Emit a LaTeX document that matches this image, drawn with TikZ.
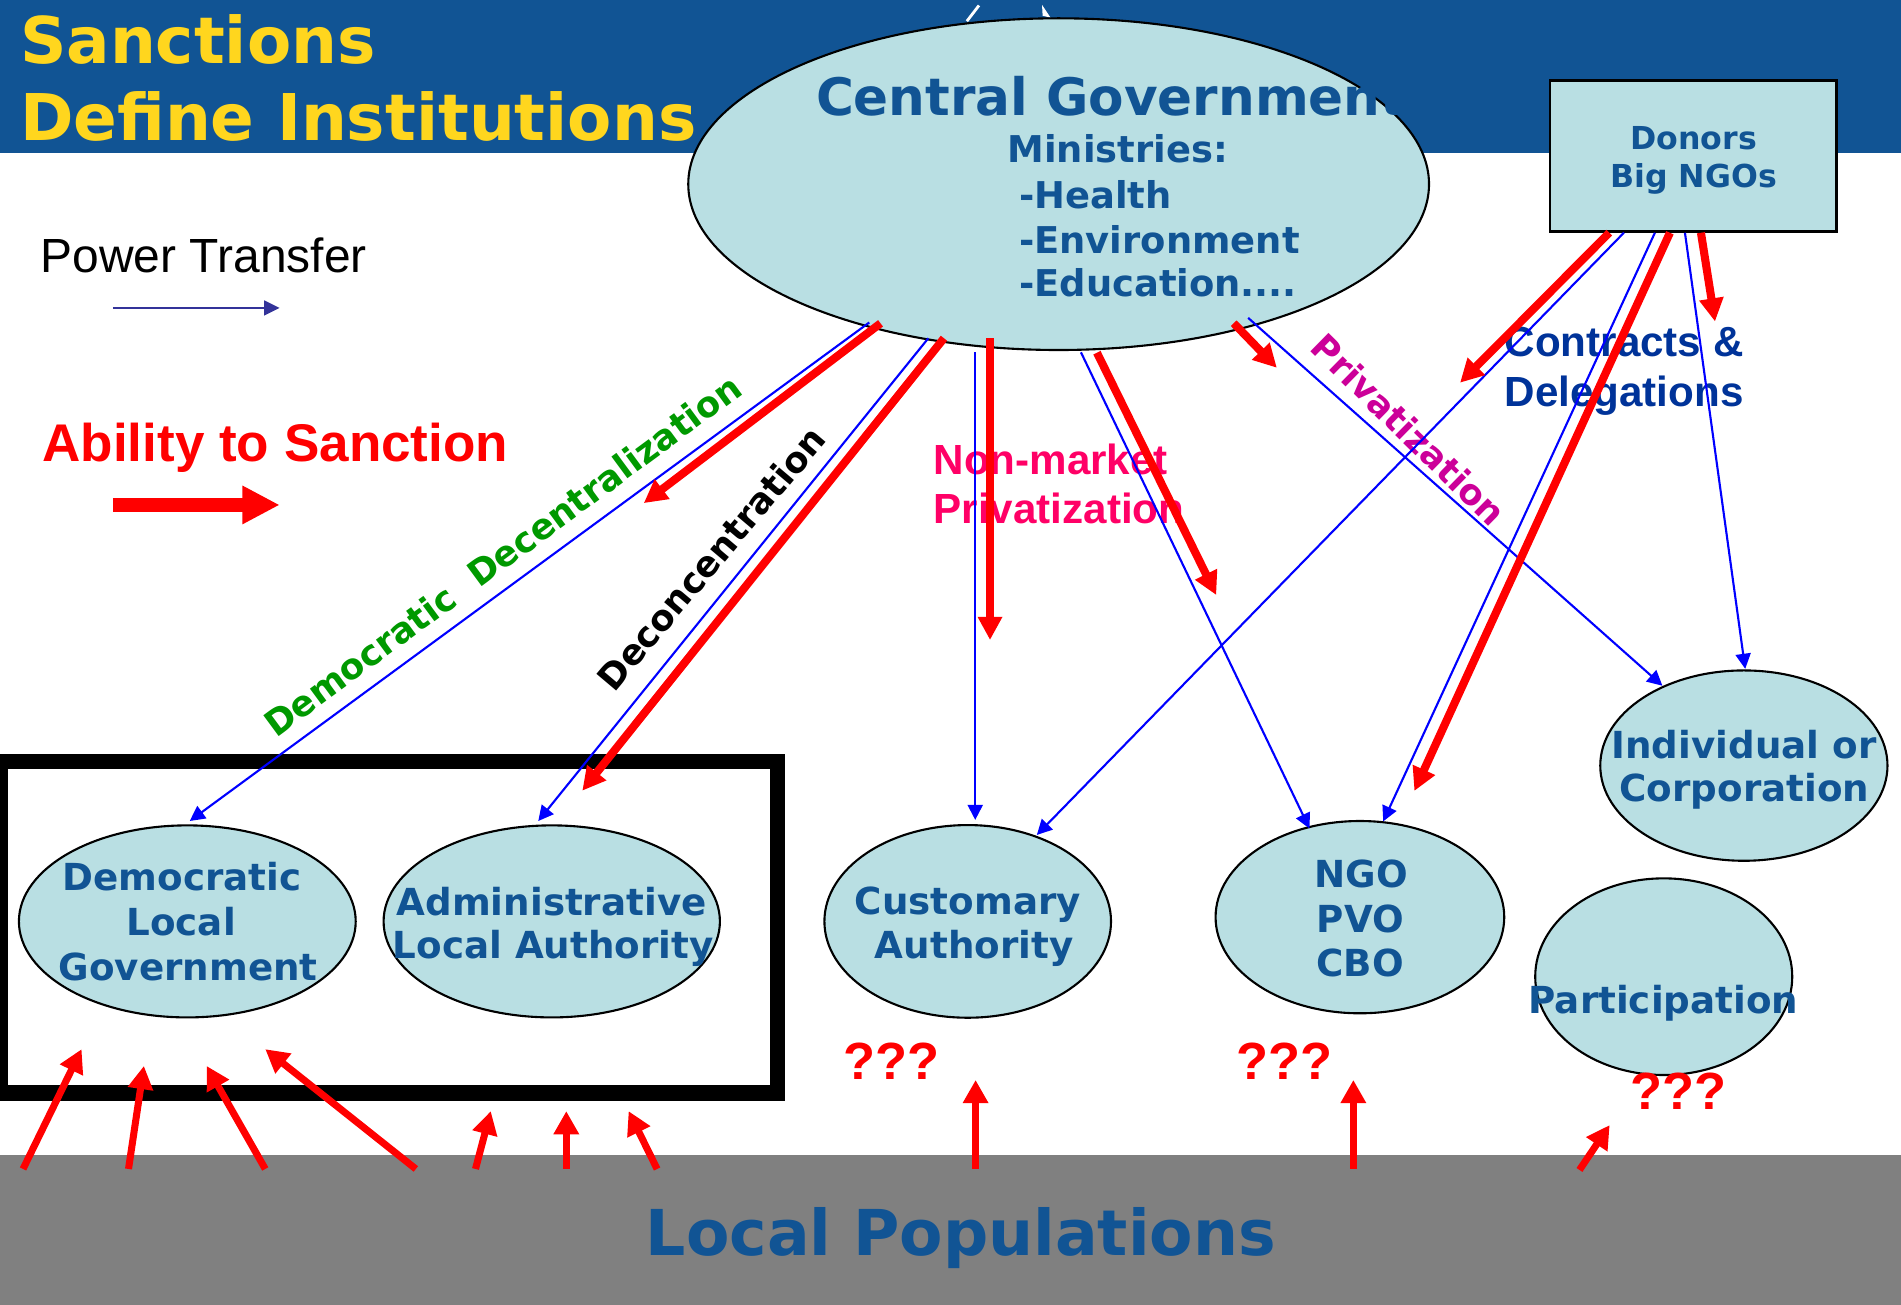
\documentclass[tikz,border=0pt]{standalone}
\usepackage{fontspec}
\usetikzlibrary{arrows.meta,shapes.geometric}
\newfontfamily\dvs{DejaVu Sans}
\newfontfamily\lsans{Liberation Sans}
\newlength\pxu
\setlength\pxu{0.012124cm}
\definecolor{bannerblue}{RGB}{17,84,148}
\definecolor{ellfill}{RGB}{185,223,227}
\definecolor{titleyellow}{RGB}{255,214,30}
\definecolor{pblue}{RGB}{0,0,255}
\definecolor{sred}{RGB}{255,0,0}
\definecolor{legblue}{RGB}{51,51,153}
\definecolor{dgreen}{RGB}{0,153,0}
\definecolor{magentaP}{RGB}{204,0,153}
\definecolor{pinkN}{RGB}{255,0,102}
\definecolor{navyC}{RGB}{0,51,153}
\definecolor{popgray}{RGB}{128,128,128}
\begin{document}
\begin{tikzpicture}[x=0.012124cm,y=-0.012124cm,
  ell/.style={ellipse, draw=black, line width=0.6pt, fill=ellfill, inner sep=0pt},
  elab/.style={font={\dvs\bfseries\fontsize{10.6}{12.7}\selectfont}, text=bannerblue, inner sep=0pt, anchor=base},
  mini/.style={font={\dvs\bfseries\fontsize{10.5}{12.7}\selectfont}, text=bannerblue, inner sep=0pt, anchor=base west},
  cgt/.style={font={\dvs\bfseries\fontsize{14.7}{17}\selectfont}, text=bannerblue, inner sep=0pt, anchor=base west},
  dlab/.style={font={\dvs\bfseries\fontsize{9}{11}\selectfont}, text=bannerblue, inner sep=0pt, anchor=base},
  ttl/.style={font={\dvs\bfseries\fontsize{18.35}{22}\selectfont}, text=titleyellow, inner sep=0pt, anchor=base west},
  popt/.style={font={\dvs\bfseries\fontsize{18}{22}\selectfont}, text=bannerblue, inner sep=0pt, anchor=base},
  rlab/.style={font={\dvs\bfseries\fontsize{10.1}{12}\selectfont}, inner sep=0pt},
  nmt/.style={font={\lsans\bfseries\fontsize{12}{14}\selectfont}, text=pinkN, inner sep=0pt, anchor=base west},
  ctt/.style={font={\lsans\bfseries\fontsize{12}{14}\selectfont}, text=navyC, inner sep=0pt, anchor=base west},
  qq/.style={font={\lsans\bfseries\fontsize{14.9}{17}\selectfont}, text=sred, inner sep=0pt, anchor=base west},
  power/.style={color=pblue, line width=0.6pt, -{Triangle[length=4.3pt,width=4.3pt]}},
  sanct/.style={color=sred, line width=2.3pt, -{Triangle[length=6.6pt,width=6.6pt]}},
  popar/.style={color=sred, line width=2pt, -{Triangle[length=6.6pt,width=6.9pt]}}
]
\useasboundingbox (0,0) rectangle (1568,1076);
\clip (0,0) rectangle (1568,1076);
% background bands
\fill[bannerblue] (0,0) rectangle (1568,126);
\fill[popgray] (0,952.7) rectangle (1568,1076);
\draw[white, line width=0.8pt] (797.5,17.5) -- (807.5,4.5);
\fill[white] (859.5,4) -- (860,13) -- (866.5,14.5) -- cycle;
% frame
\node[draw=black, line width=4.3pt, minimum width=641*\pxu, minimum height=273.6*\pxu, inner sep=0pt] (frame) at (321,764.7) {};
% ellipses
\node[ell, minimum width=611*\pxu, minimum height=273.6*\pxu] (cg) at (873.2,151.9) {};
\node[ell, minimum width=277.8*\pxu, minimum height=158.4*\pxu] (dlg) at (154.5,760) {};
\node[ell, minimum width=277.4*\pxu, minimum height=158.4*\pxu] (ala) at (455.1,760) {};
\node[ell, minimum width=236.4*\pxu, minimum height=158.9*\pxu] (cust) at (798.2,760) {};
\node[ell, minimum width=238.1*\pxu, minimum height=158.6*\pxu] (ngo) at (1121.7,756.5) {};
\node[ell, minimum width=236.9*\pxu, minimum height=157*\pxu] (indiv) at (1438.4,631.5) {};
\node[ell, minimum width=212*\pxu, minimum height=162.2*\pxu] (part) at (1372.3,805.6) {};
\node[draw=black, line width=0.8pt, fill=ellfill, minimum width=236.4*\pxu, minimum height=124.6*\pxu, inner sep=0pt] (donors) at (1396.7,128.8) {};
% title
\node[ttl] (t1) at (16,52.6) {Sanctions};
\node[ttl] (t2) at (16,116) {Define Institutions};
% central government texts
\node[cgt] (cgname) at (672.5,94.9) {Central Government};
\node[mini] (min0) at (830.5,134.2) {Ministries:};
\node[mini] (min1) at (840,171.8) {-Health};
\node[mini] (min2) at (840,209) {-Environment};
\node[mini] (min3) at (840,244.7) {-Education....};
% donors text
\node[dlab] (don1) at (1397,123.2) {Donors};
\node[dlab] (don2) at (1397,154.8) {Big NGOs};
% ellipse labels
\node[elab] (dlg1) at (150,734.6) {Democratic};
\node[elab] (dlg2) at (149.4,771.6) {Local};
\node[elab] (dlg3) at (155.3,808.6) {Government};
\node[elab] (ala1) at (455,755.1) {Administrative};
\node[elab] (ala2) at (456.2,791) {Local Authority};
\node[elab] (cus1) at (798.3,754.7) {Customary};
\node[elab] (cus2) at (803.5,790.4) {Authority};
\node[elab] (ngo1) at (1122.6,732.2) {NGO};
\node[elab] (ngo2) at (1122,769.3) {PVO};
\node[elab] (ngo3) at (1122,805.6) {CBO};
\node[elab] (ind1) at (1438.5,625.4) {Individual or};
\node[elab] (ind2) at (1438.8,661.4) {Corporation};
\node[elab] (par1) at (1372,835.8) {Participation};
% bottom band text
\node[popt] (pop) at (792.6,1035.4) {Local Populations};
% legend
\node[font={\lsans\fontsize{13.65}{16}\selectfont}, text=black, inner sep=0pt, anchor=base west] (legP) at (33,224.6) {Power Transfer};
\node[font={\lsans\bfseries\fontsize{15.1}{18}\selectfont}, text=sred, inner sep=0pt, anchor=base west] (legA) at (34.5,381) {Ability to Sanction};
\coordinate (lgb1) at (93,254);
\coordinate (lgb2) at (230.7,254);
\draw[color=legblue, line width=0.6pt, -{Triangle[length=4.4pt,width=4.2pt]}] (lgb1) -- (lgb2);
\coordinate (lgr1) at (93,416.5);
\coordinate (lgr2) at (230.7,416.5);
\draw[color=sred, line width=3.8pt, -{Triangle[length=10.6pt,width=10.2pt]}] (lgr1) -- (lgr2);
% line labels
\node[rlab, text=dgreen, rotate=36.4] (lbDD) at (414.5,458) {Democratic\ \ Decentralization};
\node[rlab, text=black, rotate=49.8] (lbDC) at (586.5,460.5) {Deconcentration};
\node[rlab, text=magentaP, rotate=-44.5] (lbPr) at (1162,354.5) {Privatization};
\node[nmt] (nm1) at (769.5,391) {Non-market};
\node[nmt] (nm2) at (769.5,432.2) {Privatization};
\node[ctt] (ct1) at (1240.5,294.2) {Contracts \&};
\node[ctt] (ct2) at (1240.5,335.4) {Delegations};
\node[qq] (q1) at (695,890.8) {???};
\node[qq] (q2) at (1019,890.8) {???};
\node[qq] (q3) at (1344,915.5) {???};
% connector end points
\coordinate (p1s) at (717,266);      \coordinate (p1e) at (156.5,677.2);
\coordinate (p2s) at (765.7,279);    \coordinate (p2e) at (444,677.2);
\coordinate (p3s) at (804.4,290.6);  \coordinate (p3e) at (804.4,676.3);
\coordinate (p4s) at (891.6,290.6);  \coordinate (p4e) at (1080.1,683.4);
\coordinate (p5s) at (1029.5,262.2); \coordinate (p5e) at (1371.2,565.6);
\coordinate (p6s) at (1339.5,191.9); \coordinate (p6e) at (855.2,688.7);
\coordinate (p7s) at (1365,192);     \coordinate (p7e) at (1140.9,677.5);
\coordinate (p8s) at (1389.8,192);   \coordinate (p8e) at (1439.5,551.7);
\coordinate (s1s) at (726.3,266.7);  \coordinate (s1e) at (531,415);
\coordinate (s2s) at (778.6,279);    \coordinate (s2e) at (480.3,652.2);
\coordinate (s3s) at (816.6,279);    \coordinate (s3e) at (816.6,527.9);
\coordinate (s4s) at (904.8,290.9);  \coordinate (s4e) at (1003.2,490.8);
\coordinate (s5s) at (1017.6,266.6); \coordinate (s5e) at (1053.2,303.4);
\coordinate (s6s) at (1327.4,191.9); \coordinate (s6e) at (1204.3,315.7);
\coordinate (s7s) at (1377.4,192);   \coordinate (s7e) at (1166.6,652.4);
\coordinate (s8s) at (1403,192);     \coordinate (s8e) at (1414.6,265.2);
\coordinate (b1s) at (19,964.2);     \coordinate (b1e) at (67.3,865.4);
\coordinate (b2s) at (106,964.2);    \coordinate (b2e) at (118.7,879.2);
\coordinate (b3s) at (218.8,964.2);  \coordinate (b3e) at (170.4,879.2);
\coordinate (b4s) at (343,964.2);    \coordinate (b4e) at (218.8,865.4);
\coordinate (b5s) at (392.2,964.2);  \coordinate (b5e) at (404.8,916.5);
\coordinate (b6s) at (467.1,964.2);  \coordinate (b6e) at (467.1,916.5);
\coordinate (b7s) at (542,964.2);    \coordinate (b7e) at (518.5,916.5);
\coordinate (b8s) at (804.7,964.2);  \coordinate (b8e) at (804.7,890.8);
\coordinate (b9s) at (1116.3,964.2); \coordinate (b9e) at (1116.3,890.8);
\coordinate (b10s) at (1302.8,965);  \coordinate (b10e) at (1327.7,928);
% power transfer connectors
\foreach \i in {1,...,8} {\draw[power] (p\i s) -- (p\i e);}
% sanction connectors
\foreach \i in {1,...,8} {\draw[sanct] (s\i s) -- (s\i e);}
% local population connectors
\foreach \i in {1,...,10} {\draw[popar] (b\i s) -- (b\i e);}
\end{tikzpicture}
\end{document}
